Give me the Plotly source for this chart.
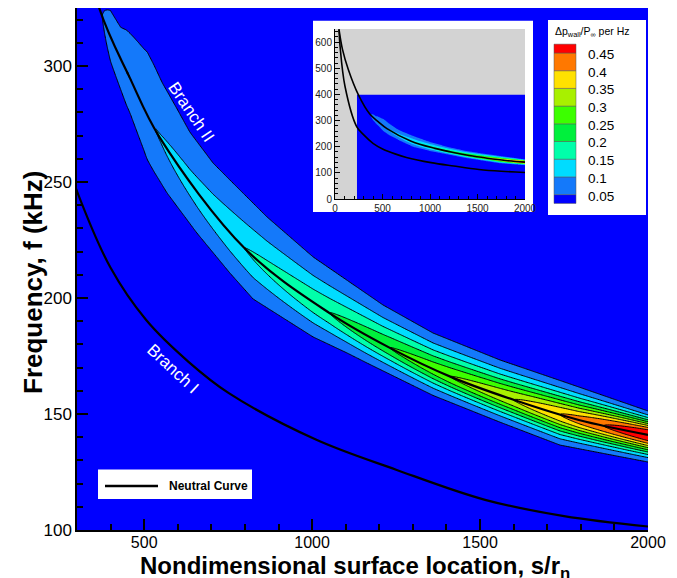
import numpy as np
import plotly.graph_objects as go

# ---------------- data ----------------
# Neutral curve, Branch II (upper) and Branch I (lower): s/r_n vs f (kHz)
branch2_s = [42, 80, 140, 245, 366, 457, 547, 802, 1052, 1233, 1413, 1602, 1794, 2000]
branch2_f = [649, 570, 495, 399, 325, 295, 269, 221, 193.5, 178.4, 166, 156, 147.4, 141]
branch1_s = [42, 53, 105, 228, 300, 400, 506, 632, 752, 1011, 1250, 1515, 1750, 2000]
branch1_f = [649, 585, 431, 277, 246, 213, 190.5, 172.5, 159, 139, 126, 113, 106, 101.5]

# Peak wall-pressure amplitude along the Branch II ridge
peak_s = [350, 375, 400, 450, 500, 547, 650, 802, 1052, 1233, 1413, 1602, 1740, 1870, 2000]
peak_a = [0.02, 0.05, 0.08, 0.101, 0.097, 0.102, 0.12, 0.151, 0.201, 0.251, 0.301, 0.351, 0.401, 0.451, 0.50]

# Outer (0.05) contour: upper and lower edges of the band
upper_edge_s = [430, 508, 553, 598, 636, 705, 755, 866, 1003, 1211, 1360, 1559, 1759, 2000]
upper_edge_f = [318, 307, 293, 281.5, 271.5, 258.2, 250.9, 234.9, 217.7, 197, 184.9, 173.3, 163.4, 151.3]
lower_edge_s = [377, 458, 508, 568, 657, 755, 824, 1003, 1104, 1163, 1360, 1559, 1738, 2000]
lower_edge_f = [305.6, 279.7, 259.5, 245.3, 228, 210.8, 199.6, 183.2, 176.3, 172, 158, 146.5, 136.6, 129.3]

# Profile sharpness across the band
shape_s = [350, 1052, 1413, 1800, 2000]
shape_p = [1.3, 1.4, 1.6, 1.8, 2.0]

# Contour levels and colours
levels = [0.05, 0.1, 0.15, 0.2, 0.25, 0.3, 0.35, 0.4, 0.45]
level_labels = ["0.05", "0.1", "0.15", "0.2", "0.25", "0.3", "0.35", "0.4", "0.45"]
band_colors = ["#0000FF", "#1479FA", "#00DCFF", "#00FFAA", "#00F03C",
               "#3CFF00", "#A8F000", "#FFE100", "#FF7800", "#FF0000"]

x_ticks = [500, 1000, 1500, 2000]
y_ticks = [100, 150, 200, 250, 300]

# ---------------- build field ----------------
s_grid = np.arange(230, 2000.01, 5.0)
f_grid = np.concatenate([np.arange(0, 100, 10.0), np.arange(100, 340.01, 0.5),
                         np.arange(345, 400.01, 5.0)])


def loginterp(x, xp, fp):
    return np.exp(np.interp(np.log(x), np.log(xp), np.log(fp)))


ridge = loginterp(s_grid, branch2_s, branch2_f)
w_up = np.maximum(np.interp(s_grid, upper_edge_s, upper_edge_f)
                  - loginterp(np.maximum(s_grid, upper_edge_s[0]), branch2_s, branch2_f), 3.0)
w_lo = np.maximum(loginterp(np.maximum(s_grid, lower_edge_s[0]), branch2_s, branch2_f)
                  - np.interp(s_grid, lower_edge_s, lower_edge_f), 3.0)
amp = np.interp(s_grid, peak_s, peak_a)
pw = np.interp(s_grid, shape_s, shape_p)
denom = np.maximum(np.log(np.maximum(amp, 1e-6) / 0.05), np.log(2.0)) ** (1.0 / pw)
sig_u = w_up / denom
sig_l = w_lo / denom
d = f_grid[:, None] - ridge[None, :]
sig = np.where(d > 0, sig_u[None, :], sig_l[None, :])
z = amp[None, :] * np.exp(-(np.abs(d) / sig) ** pw[None, :])
z = np.round(z, 4)
z[z < 0.01] = 0.0

cscale = []
for i, c in enumerate(band_colors):
    cscale.append([i / 10, c])
    cscale.append([(i + 1) / 10, c])

W, H = 677, 578
ML, MR, MT, MB = 77, 29, 8, 48
PW = W - ML - MR
PH = H - MT - MB


def px(x):
    return (x - ML) / PW


def py(y):
    return (H - MB - y) / PH


FONT = "Liberation Sans, Arial, Helvetica, sans-serif"

fig = go.Figure()

# main contour
fig.add_trace(go.Contour(
    x=s_grid, y=f_grid, z=z, xaxis="x", yaxis="y",
    autocontour=False,
    contours=dict(start=levels[0], end=levels[-1], size=0.05, coloring="fill", showlines=True),
    colorscale=cscale, showscale=False,
    line=dict(color="black", width=1), hoverinfo="skip"))
fig.add_trace(go.Scatter(x=branch2_s, y=branch2_f, mode="lines", line=dict(color="black", width=2.2, shape="spline"),
                         xaxis="x", yaxis="y", hoverinfo="skip"))
fig.add_trace(go.Scatter(x=branch1_s, y=branch1_f, mode="lines", line=dict(color="black", width=2.2, shape="spline"),
                         xaxis="x", yaxis="y", hoverinfo="skip"))

# white panel behind inset
fig.add_trace(go.Scatter(x=[0, 1, 1, 0, 0], y=[0, 0, 1, 1, 0], mode="lines", fill="toself",
                         fillcolor="white", line=dict(width=0, color="white"),
                         xaxis="x2", yaxis="y2", hoverinfo="skip"))

# inset
fig.add_trace(go.Heatmap(x=[0, 2000], y=[0, 650], z=[[1]], colorscale=[[0, "#D3D3D3"], [1, "#D3D3D3"]],
                         showscale=False, xaxis="x3", yaxis="y3", hoverinfo="skip"))
fig.add_trace(go.Contour(
    x=s_grid[::2], y=f_grid[::2], z=z[::2, ::2], xaxis="x3", yaxis="y3",
    autocontour=False,
    contours=dict(start=levels[0], end=levels[-1], size=0.05, coloring="fill", showlines=False),
    colorscale=cscale, showscale=False, line=dict(width=0), hoverinfo="skip"))
fig.add_trace(go.Scatter(x=branch2_s, y=branch2_f, mode="lines", line=dict(color="black", width=1.6, shape="spline"),
                         xaxis="x3", yaxis="y3", hoverinfo="skip"))
fig.add_trace(go.Scatter(x=branch1_s, y=branch1_f, mode="lines", line=dict(color="black", width=1.6, shape="spline"),
                         xaxis="x3", yaxis="y3", hoverinfo="skip"))

inset_x = [px(335), px(525)]
inset_y = [py(199), py(29)]
box_x = [px(313), px(533)]
box_y = [py(212), py(20.5)]

fig.update_layout(
    width=W, height=H, margin=dict(l=ML, r=MR, t=MT, b=MB),
    paper_bgcolor="white", plot_bgcolor="#0000FF", showlegend=False,
    font=dict(family=FONT, color="black"),
    xaxis=dict(domain=[0, 1], range=[300, 2000], anchor="y", tickvals=x_ticks,
               ticks="inside", ticklen=11, tickwidth=1.5, tickcolor="black",
               showline=True, linewidth=1.5, linecolor="black", mirror=False,
               showgrid=False, zeroline=False, tickfont=dict(size=16), ticklabelstandoff=-3,
               minor=dict(ticks="inside", ticklen=6, tickwidth=1.5, tickcolor="black", dtick=100, tick0=0, showgrid=False)),
    yaxis=dict(domain=[0, 1], range=[100, 325], anchor="x", tickvals=y_ticks,
               ticks="inside", ticklen=11, tickwidth=1.5, tickcolor="black",
               showline=True, linewidth=1.5, linecolor="black", mirror=False,
               showgrid=False, zeroline=False, tickfont=dict(size=17),
               minor=dict(ticks="inside", ticklen=6, tickwidth=1.5, tickcolor="black", dtick=10, tick0=0, showgrid=False)),
    xaxis2=dict(domain=box_x, range=[0, 1], anchor="y2", visible=False, fixedrange=True),
    yaxis2=dict(domain=box_y, range=[0, 1], anchor="x2", visible=False, fixedrange=True),
    xaxis3=dict(domain=inset_x, range=[0, 2000], anchor="y3", dtick=500, tick0=0,
                ticks="inside", ticklen=5, tickwidth=1, tickcolor="black",
                showline=True, linewidth=1, linecolor="black", showgrid=False, zeroline=False,
                tickfont=dict(size=10, color="#222"),
                minor=dict(ticks="inside", ticklen=3, tickwidth=1, tickcolor="black", dtick=100, tick0=0, showgrid=False)),
    yaxis3=dict(domain=inset_y, range=[0, 650], anchor="x3", dtick=100, tick0=0,
                ticks="inside", ticklen=5, tickwidth=1, tickcolor="black",
                showline=True, linewidth=1, linecolor="black", showgrid=False, zeroline=False,
                tickfont=dict(size=10, color="#222"),
                minor=dict(ticks="inside", ticklen=3, tickwidth=1, tickcolor="black", dtick=20, tick0=0, showgrid=False)),
)

shapes = []
annotations = []

# colour legend box
shapes.append(dict(type="rect", xref="paper", yref="paper", x0=px(548), x1=px(646), y0=py(215), y1=py(20),
                   fillcolor="white", line=dict(width=0), layer="above"))
step = 17.7
b0 = 53.0  # pixel row of the top (0.45) boundary
n = len(levels)
for i, c in enumerate(band_colors):
    if i == 0:
        y_top, y_bot = b0 + step * (n - 1), b0 + step * (n - 1) + step / 2
    elif i == len(band_colors) - 1:
        y_top, y_bot = b0 - step / 2, b0
    else:
        y_top, y_bot = b0 + step * (n - 1 - i), b0 + step * (n - i)
    shapes.append(dict(type="rect", xref="paper", yref="paper", x0=px(554), x1=px(576),
                       y0=py(y_bot), y1=py(y_top), fillcolor=c,
                       line=dict(width=0.5, color="#555"), layer="above"))
for j, lab in enumerate(level_labels):
    yb = b0 + step * (n - 1 - j)
    annotations.append(dict(xref="paper", yref="paper", x=px(586), y=py(yb + 1.5), text=lab,
                            showarrow=False, xanchor="left", yanchor="middle",
                            font=dict(size=13.5, color="black", family=FONT)))
annotations.append(dict(xref="paper", yref="paper", x=px(553), y=py(32),
                        text="Δp<sub>wall</sub>/P<sub>∞</sub> per Hz", showarrow=False,
                        xanchor="left", yanchor="middle", font=dict(size=10.5, color="black", family=FONT)))

# neutral-curve legend
shapes.append(dict(type="rect", xref="paper", yref="paper", x0=px(98), x1=px(252), y0=py(499), y1=py(469.5),
                   fillcolor="white", line=dict(width=0), layer="above"))
shapes.append(dict(type="line", xref="paper", yref="paper", x0=px(105), x1=px(158), y0=py(486), y1=py(486),
                   line=dict(color="black", width=2.5), layer="above"))
annotations.append(dict(xref="paper", yref="paper", x=px(167), y=py(486), text="<b>Neutral Curve</b>",
                        showarrow=False, xanchor="left", yanchor="middle", font=dict(size=12, color="black", family=FONT)))

# branch labels
annotations.append(dict(xref="x", yref="y", x=638, y=280.2, text="Branch II", showarrow=False,
                        textangle=56, font=dict(size=17, color="white", family=FONT)))
annotations.append(dict(xref="x", yref="y", x=584, y=169.4, text="Branch I", showarrow=False,
                        textangle=43, font=dict(size=17, color="white", family=FONT)))

# axis titles
annotations.append(dict(xref="paper", yref="paper", x=px(355), y=py(567),
                        text="<b>Nondimensional surface location, s/r<sub>n</sub></b>", showarrow=False,
                        xanchor="center", yanchor="middle", font=dict(size=24, color="black", family=FONT)))
annotations.append(dict(xref="paper", yref="paper", x=px(33), y=py(283),
                        text="<b>Frequency, f (kHz)</b>", showarrow=False, textangle=-90,
                        xanchor="center", yanchor="middle", font=dict(size=26, color="black", family=FONT)))

fig.update_layout(shapes=shapes, annotations=annotations)
fig.write_html("out.html")
